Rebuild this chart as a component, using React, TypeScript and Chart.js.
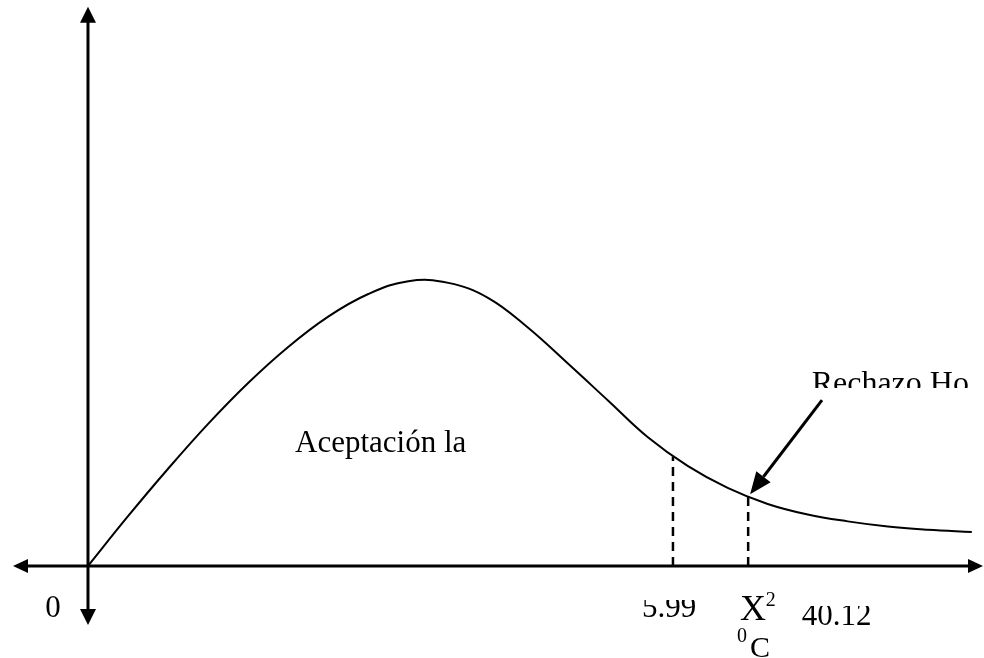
import React, { useEffect, useRef } from "react";
import { Chart, registerables } from "chart.js";

Chart.register(...registerables);

// Chi-square style density curve (schematic)
const curveX = [0, 0.41, 0.82, 1.23, 1.64, 2.05, 2.46, 2.87, 3.28, 3.69, 4.1, 4.51, 4.92, 5.33, 5.73, 6.14, 6.55, 6.96, 7.37, 7.78, 8.19, 8.6, 9.05];
const curveY = [0, 0.174, 0.34, 0.497, 0.64, 0.766, 0.872, 0.951, 0.996, 0.99, 0.937, 0.832, 0.706, 0.577, 0.451, 0.35, 0.273, 0.217, 0.18, 0.156, 0.138, 0.127, 0.119];

// Critical value and observed statistic positions
const criticalX = 5.99;
const criticalY = 0.383;
const observedX = 6.76;
const observedY = 0.244;

// Labels
const originLabel = "0";
const criticalLabel = "5.99";
const observedLabel = "40.12";
const acceptLabel = "Aceptación la";
const rejectLabel = "Rechazo Ho";

// Scale ranges
const xRange = [-0.901, 9.175];
const yRange = [-0.3217, 1.979];
// Drawn axis extents
const xAxisExtent = [-0.768, 9.165];
const yAxisExtent = [-0.206, 1.955];

const SERIF = "'Liberation Serif', 'Times New Roman', serif";

const drawPlugin = {
  id: "schematic",
  beforeDatasetsDraw(chart: any) {
    const ctx = chart.ctx;
    const xs = chart.scales.x;
    const ys = chart.scales.y;
    const px = (v: number) => xs.getPixelForValue(v);
    const py = (v: number) => ys.getPixelForValue(v);
    ctx.save();
    ctx.strokeStyle = "#000";
    ctx.fillStyle = "#000";
    ctx.lineWidth = 3;
    const x0 = px(0);
    const y0 = py(0);
    const xl = px(xAxisExtent[0]);
    const xr = px(xAxisExtent[1]);
    const yb = py(yAxisExtent[0]);
    const yt = py(yAxisExtent[1]);
    const L = 15;
    const W = 8;
    ctx.beginPath();
    ctx.moveTo(xl + L, y0);
    ctx.lineTo(xr - L, y0);
    ctx.stroke();
    ctx.beginPath();
    ctx.moveTo(x0, yt + L);
    ctx.lineTo(x0, yb - L);
    ctx.stroke();
    const tri = (a: number[], b: number[], c: number[]) => {
      ctx.beginPath();
      ctx.moveTo(a[0], a[1]);
      ctx.lineTo(b[0], b[1]);
      ctx.lineTo(c[0], c[1]);
      ctx.closePath();
      ctx.fill();
    };
    tri([xl, y0], [xl + L, y0 - W + 1], [xl + L, y0 + W - 1]);
    tri([xr, y0], [xr - L, y0 - W + 1], [xr - L, y0 + W - 1]);
    tri([x0, yt], [x0 - W, yt + L + 1], [x0 + W, yt + L + 1]);
    tri([x0, yb], [x0 - W, yb - L - 1], [x0 + W, yb - L - 1]);
    ctx.restore();
  },
  afterDatasetsDraw(chart: any) {
    const ctx = chart.ctx;
    const xs = chart.scales.x;
    const ys = chart.scales.y;
    const px = (v: number) => xs.getPixelForValue(v);
    const py = (v: number) => ys.getPixelForValue(v);
    ctx.save();
    ctx.fillStyle = "#000";
    ctx.strokeStyle = "#000";
    ctx.textBaseline = "alphabetic";
    ctx.textAlign = "left";

    const text = (t: string, x: number, y: number, size: number, clipTop?: number, clipBottom?: number) => {
      ctx.save();
      if (clipTop !== undefined || clipBottom !== undefined) {
        const top = clipTop !== undefined ? py(clipTop) : 0;
        const bottom = clipBottom !== undefined ? py(clipBottom) : chart.height;
        ctx.beginPath();
        ctx.rect(0, top, chart.width, bottom - top);
        ctx.clip();
      }
      ctx.font = `${size}px ${SERIF}`;
      ctx.fillText(t, px(x), py(y));
      ctx.restore();
    };

    text(acceptLabel, 2.12, 0.399, 31);
    text(rejectLabel, 7.41, 0.605, 32, undefined, 0.622);

    ctx.save();
    ctx.font = `31px ${SERIF}`;
    ctx.textAlign = "center";
    ctx.fillText(originLabel, px(-0.358), py(-0.178));
    ctx.restore();

    text(criticalLabel, 5.673, -0.178, 31, -0.119);
    text(observedLabel, 7.31, -0.206, 31, -0.14);
    text("X", 6.676, -0.189, 36);
    text("2", 6.94, -0.14, 20);
    text("0", 6.646, -0.266, 20);
    text("C", 6.779, -0.318, 30);

    // annotation arrow
    const tx = px(observedX + 0.02);
    const ty = py(observedY) - 2;
    const sx = px(7.516);
    const sy = py(0.58);
    const ang = Math.atan2(ty - sy, tx - sx);
    const HL = 22;
    const HW = 9;
    const bx = tx - HL * Math.cos(ang);
    const by = ty - HL * Math.sin(ang);
    ctx.lineWidth = 3;
    ctx.beginPath();
    ctx.moveTo(sx, sy);
    ctx.lineTo(bx, by);
    ctx.stroke();
    ctx.beginPath();
    ctx.moveTo(tx, ty);
    ctx.lineTo(bx + HW * Math.sin(ang), by - HW * Math.cos(ang));
    ctx.lineTo(bx - HW * Math.sin(ang), by + HW * Math.cos(ang));
    ctx.closePath();
    ctx.fill();
    ctx.restore();
  },
};

export default function App() {
  const ref = useRef<HTMLCanvasElement | null>(null);
  useEffect(() => {
    if (!ref.current) return;
    const chart = new Chart(ref.current, {
      type: "line",
      data: {
        datasets: [
          {
            data: curveX.map((x, i) => ({ x, y: curveY[i] })),
            borderColor: "#000",
            borderWidth: 2,
            pointRadius: 0,
            tension: 0.4,
            fill: false,
          },
          {
            data: [
              { x: criticalX, y: 0 },
              { x: criticalX, y: criticalY },
            ],
            borderColor: "#000",
            borderWidth: 2.5,
            borderDash: [9, 6],
            pointRadius: 0,
          },
          {
            data: [
              { x: observedX, y: 0 },
              { x: observedX, y: observedY },
            ],
            borderColor: "#000",
            borderWidth: 2.5,
            borderDash: [9, 6],
            pointRadius: 0,
          },
        ],
      },
      options: {
        animation: false,
        responsive: true,
        maintainAspectRatio: false,
        layout: { padding: 0 },
        plugins: { legend: { display: false }, tooltip: { enabled: false } },
        scales: {
          x: { type: "linear", min: xRange[0], max: xRange[1], display: false },
          y: { type: "linear", min: yRange[0], max: yRange[1], display: false },
        },
      } as any,
      plugins: [drawPlugin],
    });
    return () => chart.destroy();
  }, []);
  return (
    <div style={{ position: "absolute", left: 0, top: 0, width: 984, height: 658, background: "#fff" }}>
      <canvas ref={ref} />
    </div>
  );
}
